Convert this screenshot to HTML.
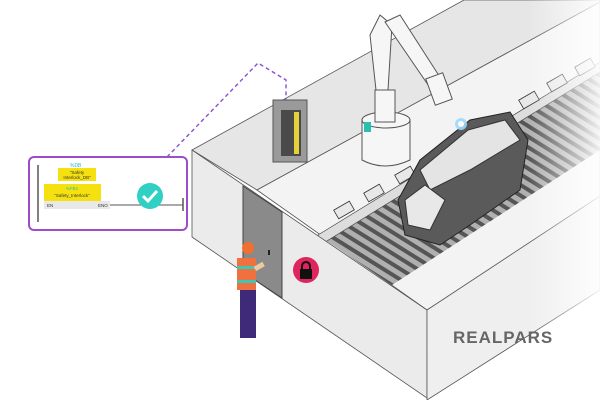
<!DOCTYPE html>
<html><head><meta charset="utf-8"><style>
html,body{margin:0;padding:0;background:#fff;width:600px;height:400px;overflow:hidden}
svg{display:block}
</style></head><body>
<svg width="600" height="400" viewBox="0 0 600 400" xmlns="http://www.w3.org/2000/svg" font-family="Liberation Sans, sans-serif">
<defs>
<pattern id="st" width="9" height="9" patternUnits="userSpaceOnUse" patternTransform="rotate(-58)">
<rect width="9" height="9" fill="#b0b0b0"/><rect width="4" height="9" fill="#555"/>
</pattern>
<linearGradient id="fade" x1="0" x2="1"><stop offset="0.88" stop-color="#fff" stop-opacity="0"/><stop offset="1" stop-color="#fff" stop-opacity="0.9"/></linearGradient>
</defs>
<rect width="600" height="400" fill="#fff"/>
<polygon points="192,150 464,0 600,0 600,2 257,190" fill="#e6e6e6" stroke="#555" stroke-width="0.8"/>
<polygon points="257,190 600,2 600,200 427,310" fill="#f3f3f3" stroke="#555" stroke-width="0.8"/>
<polygon points="318,235 600,62 600,150 392,285" fill="url(#st)"/>
<polygon points="318,235 600,62 600,72 322,244" fill="#ddd" stroke="#444" stroke-width="0.7"/>
<g fill="#e8e8e8" stroke="#333" stroke-width="0.8">
<rect x="335" y="205" width="18" height="10" transform="rotate(-30 344 210)"/>
<rect x="365" y="188" width="18" height="10" transform="rotate(-30 374 193)"/>
<rect x="396" y="170" width="18" height="10" transform="rotate(-30 405 175)"/>
<rect x="520" y="95" width="18" height="10" transform="rotate(-30 529 100)"/>
<rect x="548" y="78" width="18" height="10" transform="rotate(-30 557 83)"/>
<rect x="576" y="62" width="18" height="10" transform="rotate(-30 585 67)"/>
</g>
<path d="M398,200 L420,160 L470,120 L510,112 L528,140 L520,190 L470,225 L440,245 L405,235 Z" fill="#5a5a5a" stroke="#222"/>
<path d="M420,170 L468,130 L505,120 L520,140 L470,170 L430,190 Z" fill="#e4e4e4" stroke="#333"/>
<path d="M405,200 L425,185 L445,200 L430,230 L408,225 Z" fill="#e8e8e8" stroke="#333"/>
<g fill="#f6f6f6" stroke="#555" stroke-width="1">
<path d="M362,120 L362,160 Q385,172 410,160 L410,120 Z"/>
<ellipse cx="386" cy="120" rx="24" ry="8"/>
<rect x="375" y="90" width="20" height="32"/>
<path d="M370,35 L380,15 L392,25 L388,90 L376,90 Z"/>
<path d="M385,22 L400,15 L445,85 L435,95 Z"/>
<rect x="430" y="75" width="18" height="28" transform="rotate(-20 439 89)"/>
</g>
<rect x="364" y="122" width="7" height="10" fill="#2bbfb0"/>
<circle cx="461" cy="124" r="6" fill="#9fd8ff" opacity="0.9"/>
<circle cx="461" cy="124" r="3" fill="#fff"/>
<rect x="273" y="100" width="34" height="62" fill="#9a9a9a" stroke="#555"/>
<rect x="281" y="110" width="20" height="46" fill="#4a4a4a"/>
<rect x="294" y="112" width="5" height="42" fill="#e4d23a"/>
<polygon points="192,150 427,310 427,398 192,237" fill="#ebebeb" stroke="#555" stroke-width="0.8"/>
<polygon points="427,310 600,196 600,290 427,400" fill="#efefef" stroke="#555" stroke-width="0.8"/>
<rect x="0" y="0" width="600" height="400" fill="url(#fade)"/>
<polygon points="243,186 282,212 282,298 243,272" fill="#8a8a8a" stroke="#444"/>
<rect x="268" y="250" width="2" height="5" fill="#222"/>
<circle cx="306" cy="270" r="13" fill="#e0245e"/>
<rect x="300" y="269" width="12" height="10" fill="#111"/>
<path d="M302,270 v-4 a4,4 0 0 1 8,0 v4" fill="none" stroke="#111" stroke-width="2"/>
<circle cx="248" cy="248" r="6" fill="#f07030"/>
<rect x="237" y="258" width="19" height="32" fill="#f07040"/>
<rect x="237" y="266" width="19" height="3" fill="#3cc8b4"/>
<rect x="237" y="280" width="19" height="3" fill="#3cc8b4"/>
<rect x="240" y="290" width="16" height="48" fill="#3f2a7a"/>
<rect x="254" y="264" width="10" height="5" fill="#f0c8a0" transform="rotate(-30 259 266)"/>
<text x="453" y="343" font-size="17" font-weight="bold" fill="#666" letter-spacing="1">REALPARS</text>
<polyline points="167,157 258,63 286,80 286,100" fill="none" stroke="#8a4fd0" stroke-width="1.4" stroke-dasharray="4,3"/>
<rect x="29" y="157" width="158" height="73" rx="5" fill="#fff" stroke="#9b4dca" stroke-width="2"/>
<line x1="38" y1="165" x2="38" y2="222" stroke="#555" stroke-width="1.5"/>
<text x="70" y="167" font-size="5" fill="#2bbfb0">%DB</text>
<rect x="58" y="168" width="38" height="13" fill="#f4e10f"/>
<text x="77" y="174" font-size="4.5" text-anchor="middle" fill="#333">"Safety</text>
<text x="77" y="179" font-size="4.5" text-anchor="middle" fill="#333">Interlock_DB"</text>
<rect x="44" y="184" width="57" height="17" fill="#f4e10f"/>
<text x="72" y="190" font-size="4.5" text-anchor="middle" fill="#2bbfb0">%FB1</text>
<text x="72" y="197" font-size="4.5" text-anchor="middle" fill="#333">"Safety_Interlock"</text>
<rect x="44" y="201" width="66" height="8" fill="#e8e8e8"/>
<text x="47" y="207" font-size="4.5" fill="#333">EN</text>
<text x="98" y="207" font-size="4.5" fill="#333">ENO</text>
<line x1="110" y1="205" x2="183" y2="205" stroke="#555"/>
<line x1="183" y1="198" x2="183" y2="211" stroke="#555" stroke-width="1.5"/>
<circle cx="150" cy="196" r="13" fill="#30d0c4"/>
<path d="M143,196 l5,5 l9,-10" fill="none" stroke="#fff" stroke-width="3"/>
</svg>
</body></html>
